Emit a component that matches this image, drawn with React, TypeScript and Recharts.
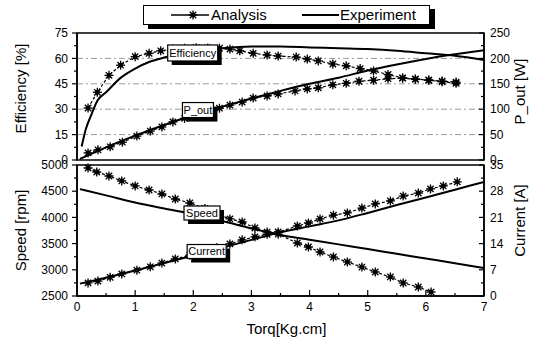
import React from 'react';
import { LineChart, Line, XAxis, YAxis, ReferenceArea, ReferenceLine, ReferenceDot } from 'recharts';

// top panel: efficiency [%] (left) and output power [W] (right)
const effAnaTorq = [0.19, 0.35, 0.55, 0.75, 1.0, 1.24, 1.44, 1.65, 1.85, 2.05, 2.25, 2.45, 2.63, 2.8, 3.03, 3.27, 3.46, 3.77, 3.96, 4.15, 4.4, 4.63, 4.87, 5.1, 5.35, 5.6, 5.82, 6.05, 6.28, 6.52];
const effAna = [30.7, 40, 50, 56, 61, 63, 64.5, 65.5, 66, 66.3, 66.2, 66, 65.5, 64.5, 63, 62, 61.4, 60.8, 59.6, 58.5, 56.7, 55.6, 54, 52.6, 50.5, 48.5, 47.8, 47.2, 46.6, 46];
const effExpTorq = [0.08, 0.15, 0.25, 0.35, 0.5, 0.75, 1, 1.25, 1.5, 2, 2.5, 3, 3.5, 4, 4.5, 5, 5.5, 6, 6.5, 7];
const effExp = [8, 18, 27, 35, 40, 48.5, 54, 58, 60.5, 64, 66, 67, 67, 66.5, 66, 65.5, 64.5, 63, 61.5, 59];

const powAnaTorq = [0.19, 0.36, 0.57, 0.78, 1.03, 1.26, 1.46, 1.65, 1.85, 2.05, 2.25, 2.45, 2.63, 2.84, 3.03, 3.27, 3.46, 3.75, 3.96, 4.15, 4.4, 4.63, 4.85, 5.1, 5.35, 5.6, 5.82, 6.05, 6.28, 6.52];
const powAna = [14, 20, 26, 35, 47, 57, 65, 75, 82, 89, 96, 102, 108, 114, 122, 126, 130, 136, 140, 142, 148, 151, 155, 157, 160, 161, 159, 157, 154, 151];
const powExpTorq = [0.05, 0.5, 1, 1.5, 2, 2.5, 3, 3.5, 4, 4.5, 5, 5.5, 6, 6.5, 7];
const powExp = [2, 25, 48, 69, 88, 105, 121, 136, 150, 162, 176, 188, 199, 208, 216];

// bottom panel: speed [rpm] (left) and current [A] (right)
const spdAnaTorq = [0.19, 0.34, 0.55, 0.77, 1.0, 1.24, 1.46, 1.69, 1.94, 2.2, 2.42, 2.63, 2.84, 3.06, 3.27, 3.46, 3.79, 3.98, 4.18, 4.41, 4.65, 4.9, 5.13, 5.39, 5.61, 5.87, 6.09];
const spdAna = [4943, 4866, 4790, 4695, 4600, 4523, 4447, 4351, 4275, 4170, 4060, 3970, 3912, 3798, 3721, 3680, 3511, 3435, 3340, 3244, 3149, 3053, 2958, 2863, 2748, 2672, 2576];
const spdExpTorq = [0.05, 0.5, 1, 1.5, 2, 2.5, 3, 3.5, 4, 4.5, 5, 5.5, 6, 6.5, 7];
const spdExp = [4540, 4420, 4285, 4170, 4060, 3930, 3790, 3665, 3575, 3485, 3395, 3305, 3215, 3125, 3034];

const curAnaTorq = [0.19, 0.36, 0.57, 0.77, 1.03, 1.26, 1.46, 1.69, 1.94, 2.18, 2.4, 2.63, 2.84, 3.06, 3.27, 3.46, 3.79, 3.98, 4.18, 4.41, 4.65, 4.9, 5.13, 5.39, 5.61, 5.87, 6.08, 6.3, 6.54];
const curAna = [3.5, 4, 5, 5.9, 6.9, 7.8, 8.8, 9.9, 10.9, 11.9, 12.9, 13.9, 15, 15.8, 16.5, 17.1, 18.7, 19.5, 20.6, 21.6, 22.2, 23.5, 24.6, 25.4, 26.7, 27.5, 28.6, 29.4, 30.5];
const curExpTorq = [0.05, 0.5, 1, 1.5, 2, 2.5, 3, 3.5, 4, 4.5, 5, 5.5, 6, 6.5, 7];
const curExp = [3.3, 4.9, 6.8, 8.8, 10.8, 12.9, 15, 17, 18.6, 20.2, 22.2, 24.3, 26.3, 28.4, 30.5];

// ticks (majors + minors)
const torqTicks = [0, 0.5, 1, 1.5, 2, 2.5, 3, 3.5, 4, 4.5, 5, 5.5, 6, 6.5, 7];
const effTicks = [0, 7.5, 15, 22.5, 30, 37.5, 45, 52.5, 60, 67.5, 75];
const powTicks = [0, 25, 50, 75, 100, 125, 150, 175, 200, 225, 250];
const spdTicks = [2500, 2750, 3000, 3250, 3500, 3750, 4000, 4250, 4500, 4750, 5000];
const curTicks = [0, 3.5, 7, 10.5, 14, 17.5, 21, 24.5, 28, 31.5, 35];
const gridLevels = [15, 30, 45, 60];

const pts = (xs: number[], ys: number[]) => xs.map((x, i) => ({ x, y: ys[i] }));

const isMajor = (v: number, step: number) => Math.abs(v / step - Math.round(v / step)) < 1e-6;

const Star = (props: any) => {
  const { cx, cy, index } = props;
  if (cx == null || cy == null) return <g key={index} />;
  const r = 4.5;
  const d = r * 0.7071;
  return (
    <g key={index} stroke="#000" strokeWidth={1.3}>
      <line x1={cx - r} y1={cy} x2={cx + r} y2={cy} />
      <line x1={cx} y1={cy - r} x2={cx} y2={cy + r} />
      <line x1={cx - d} y1={cy - d} x2={cx + d} y2={cy + d} />
      <line x1={cx - d} y1={cy + d} x2={cx + d} y2={cy - d} />
      <circle cx={cx} cy={cy} r={1.8} fill="#000" />
    </g>
  );
};

const leftTick = (step: number) => (props: any) => {
  const { x, y, payload } = props;
  const major = isMajor(payload.value, step);
  const ax = x + 9;
  return (
    <g>
      <line x1={ax - (major ? 5 : 3)} y1={y} x2={ax} y2={y} stroke="#000" strokeWidth={1.2} />
      {major && <text x={x} y={y} dy="0.35em" textAnchor="end" fontSize={12} fill="#000">{payload.value}</text>}
    </g>
  );
};

const rightTick = (step: number) => (props: any) => {
  const { x, y, payload } = props;
  const major = isMajor(payload.value, step);
  const ax = x - 6;
  return (
    <g>
      <line x1={ax - (major ? 5 : 3)} y1={y} x2={ax} y2={y} stroke="#000" strokeWidth={1.2} />
      {major && <text x={x} y={y} dy="0.35em" textAnchor="start" fontSize={12} fill="#000">{payload.value}</text>}
    </g>
  );
};

const bottomTick = (props: any) => {
  const { x, y, payload } = props;
  const major = isMajor(payload.value, 1);
  const ay = y - 6;
  return (
    <g>
      <line x1={x} y1={ay} x2={x} y2={ay - (major ? 6 : 3)} stroke="#000" strokeWidth={1.2} />
      {major && <text x={x} y={y} dy="0.71em" textAnchor="middle" fontSize={12} fill="#000">{payload.value}</text>}
    </g>
  );
};

const boxLabel = (text: string, w: number, h: number) => (p: any) => (
  <g>
    <rect x={p.cx - w / 2 + 4} y={p.cy - h / 2 + 4} width={w} height={h} fill="#000" />
    <rect x={p.cx - w / 2} y={p.cy - h / 2} width={w} height={h} fill="#fff" stroke="#000" strokeWidth={1.2} />
    <text x={p.cx} y={p.cy} dy="0.35em" textAnchor="middle" fontSize={11} fill="#000">{text}</text>
  </g>
);

const axisLine = { stroke: '#000', strokeWidth: 1.5 };
const labelStyle = { fontSize: 15, fill: '#000' };

const LegendStar = ({ x }: { x: number }) => (
  <g stroke="#000" strokeWidth={1.3}>
    <line x1={x - 4.5} y1={9} x2={x + 4.5} y2={9} />
    <line x1={x} y1={4.5} x2={x} y2={13.5} />
    <line x1={x - 3.2} y1={5.8} x2={x + 3.2} y2={12.2} />
    <line x1={x - 3.2} y1={12.2} x2={x + 3.2} y2={5.8} />
    <circle cx={x} cy={9} r={1.8} fill="#000" />
  </g>
);

export default function App() {
  return (
    <div style={{ position: 'absolute', left: 0, top: 0, width: 542, height: 340, background: '#fff', fontFamily: '"Liberation Sans", Arial, sans-serif' }}>
      <div style={{ position: 'absolute', left: 0, top: 0 }}>
        <LineChart width={542} height={175} margin={{ top: 33, right: 0, bottom: 15, left: 0 }}>
          <XAxis type="number" dataKey="x" domain={[0, 7]} hide allowDataOverflow />
          <YAxis yAxisId="left" width={77} domain={[0, 75]} ticks={effTicks} interval={0} tickSize={0} tickMargin={9}
            tick={leftTick(15)} tickLine={false} axisLine={axisLine}
            label={{ value: 'Efficiency [%]', angle: -90, position: 'center', dx: -18, dy: -8, style: labelStyle }} />
          <YAxis yAxisId="right" orientation="right" width={58} domain={[0, 250]} ticks={powTicks} interval={0} tickSize={0} tickMargin={6}
            tick={rightTick(50)} tickLine={false} axisLine={axisLine}
            label={{ value: 'P_out [W]', angle: -90, position: 'center', dx: 7, dy: -5, style: labelStyle }} />
          {gridLevels.map((v) => (
            <ReferenceLine key={v} yAxisId="left" y={v} stroke="#999" strokeDasharray="6 3 2 3" />
          ))}
          <ReferenceArea yAxisId="left" x1={0} x2={7} y1={0} y2={75} fill="none" stroke="#000" strokeWidth={1.5} />
          <Line yAxisId="left" data={pts(effExpTorq, effExp)} dataKey="y" type="monotone" stroke="#000" strokeWidth={2} dot={false} isAnimationActive={false} />
          <Line yAxisId="right" data={pts(powExpTorq, powExp)} dataKey="y" type="monotone" stroke="#000" strokeWidth={2} dot={false} isAnimationActive={false} />
          <Line yAxisId="left" data={pts(effAnaTorq, effAna)} dataKey="y" type="linear" stroke="#000" strokeWidth={1.2} strokeDasharray="3 2" dot={Star} isAnimationActive={false} />
          <Line yAxisId="right" data={pts(powAnaTorq, powAna)} dataKey="y" type="linear" stroke="#000" strokeWidth={1.2} strokeDasharray="3 2" dot={Star} isAnimationActive={false} />
          <ReferenceDot yAxisId="left" x={1.99} y={63.2} zIndex={1000} shape={boxLabel('Efficiency', 50, 16)} />
          <ReferenceDot yAxisId="left" x={2.08} y={29.5} zIndex={1000} shape={boxLabel('P_out', 31, 15)} />
        </LineChart>
      </div>

      <div style={{ position: 'absolute', left: 0, top: 150 }}>
        <LineChart width={542} height={190} margin={{ top: 15, right: 0, bottom: 0, left: 0 }}>
          <XAxis type="number" dataKey="x" domain={[0, 7]} ticks={torqTicks} interval={0} height={44} tickSize={0} tickMargin={6}
            tick={bottomTick} tickLine={false} axisLine={axisLine} allowDataOverflow
            label={{ value: 'Torq[Kg.cm]', position: 'insideBottom', offset: 6, dx: 6, style: labelStyle }} />
          <YAxis yAxisId="left" width={77} domain={[2500, 5000]} ticks={spdTicks} interval={0} tickSize={0} tickMargin={9}
            tick={leftTick(500)} tickLine={false} axisLine={axisLine}
            label={{ value: 'Speed [rpm]', angle: -90, position: 'center', dx: -18, style: labelStyle }} />
          <YAxis yAxisId="right" orientation="right" width={58} domain={[0, 35]} ticks={curTicks} interval={0} tickSize={0} tickMargin={6}
            tick={rightTick(7)} tickLine={false} axisLine={axisLine}
            label={{ value: 'Current [A]', angle: -90, position: 'center', dx: 7, dy: -10, style: labelStyle }} />
          <ReferenceArea yAxisId="left" x1={0} x2={7} y1={2500} y2={5000} fill="none" stroke="#000" strokeWidth={1.5} />
          <Line yAxisId="left" data={pts(spdExpTorq, spdExp)} dataKey="y" type="monotone" stroke="#000" strokeWidth={2} dot={false} isAnimationActive={false} />
          <Line yAxisId="right" data={pts(curExpTorq, curExp)} dataKey="y" type="monotone" stroke="#000" strokeWidth={2} dot={false} isAnimationActive={false} />
          <Line yAxisId="left" data={pts(spdAnaTorq, spdAna)} dataKey="y" type="linear" stroke="#000" strokeWidth={1.2} strokeDasharray="3 2" dot={Star} isAnimationActive={false} />
          <Line yAxisId="right" data={pts(curAnaTorq, curAna)} dataKey="y" type="linear" stroke="#000" strokeWidth={1.2} strokeDasharray="3 2" dot={Star} isAnimationActive={false} />
          <ReferenceDot yAxisId="left" x={2.15} y={4084} zIndex={1000} shape={boxLabel('Speed', 36, 14)} />
          <ReferenceDot yAxisId="left" x={2.23} y={3349} zIndex={1000} shape={boxLabel('Current', 39, 14)} />
        </LineChart>
      </div>

      <div style={{ position: 'absolute', left: 143, top: 5, width: 285, height: 18, border: '1.5px solid #000', background: '#fff', boxShadow: '5px 4px 0 #000', fontSize: 15, color: '#000' }}>
        <svg width={285} height={18} style={{ position: 'absolute', left: 0, top: 0 }}>
          <line x1={27} y1={9} x2={65} y2={9} stroke="#000" strokeWidth={1.3} />
          <LegendStar x={49} />
          <line x1={158} y1={9} x2={195} y2={9} stroke="#000" strokeWidth={2} />
        </svg>
        <span style={{ position: 'absolute', left: 67, top: 0, lineHeight: '18px' }}>Analysis</span>
        <span style={{ position: 'absolute', left: 196, top: 0, lineHeight: '18px' }}>Experiment</span>
      </div>
    </div>
  );
}
